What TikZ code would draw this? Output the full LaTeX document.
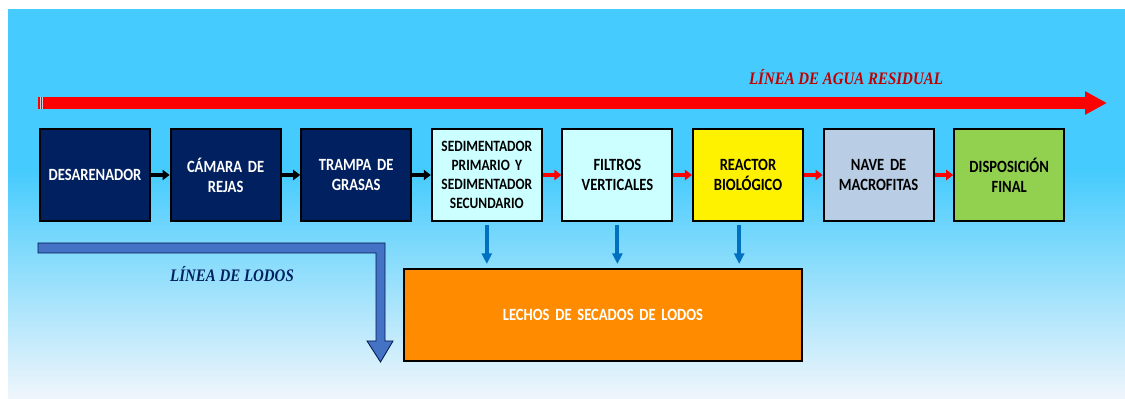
\documentclass[tikz,border=0pt]{standalone}
\usepackage{fontspec}
\setmainfont{Carlito}[FakeStretch=0.85]
\newfontfamily\rotulo{Liberation Serif}[FakeStretch=0.85]
\usetikzlibrary{positioning,arrows.meta}
\definecolor{fondo}{RGB}{69,203,253}
\definecolor{fondoclaro}{RGB}{240,246,251}
\definecolor{marino}{HTML}{002060}
\definecolor{celeste}{HTML}{CCFFFF}
\definecolor{acero}{HTML}{B9CDE5}
\definecolor{verde}{HTML}{92D050}
\definecolor{naranja}{HTML}{FF8C00}
\definecolor{azull}{HTML}{4472C4}
\definecolor{azulf}{HTML}{0070C0}
\definecolor{rojol}{HTML}{C00000}
\tikzset{
  etapa/.style={draw=black,line width=1.4pt,minimum width=2.75cm,minimum height=2.3cm,
    inner sep=0pt,text width=2.7cm,align=center,font=\bfseries\fontsize{12.2}{14.2}\selectfont},
  oscura/.style={etapa,fill=marino,text=white},
  flechanegra/.style={line width=3.5pt,-{Triangle[length=5pt,width=7.2pt]}},
  flecharoja/.style={flechanegra,red},
  flechabaja/.style={azulf,line width=2.8pt,-{Triangle[length=7.5pt,width=7pt]},
    shorten <=0.08cm,shorten >=0.1cm},
}
\begin{document}
\begin{tikzpicture}[x=0.025cm,y=-0.025cm,node distance=0.465cm]
            \useasboundingbox (0,0) rectangle (1125,399);
            % fondo
            \fill[white] (0,0) rectangle (1125,399);
            \fill[fondo] (8,9) rectangle (1125,171);
            \shade[top color=fondo,bottom color=fondoclaro] (8,170) rectangle (1125,399);
            % linea de agua residual
            \coordinate (aguaini) at (38,103);
            \coordinate (aguafin) at (1107,103);
            \draw[red,line width=8.5pt,-{Triangle[length=15.6pt,width=15.6pt]}] (aguaini) -- (aguafin);
            \draw[fondo!60!red!40!white,line width=0.5pt] (40,97)--(40,109) (42.8,97)--(42.8,109);
            \node[text=rojol,font=\rotulo\bfseries\itshape\fontsize{12.5}{14}\selectfont] (agua) at (846,77) {LÍNEA DE AGUA RESIDUAL};
            % etapas
            \node[oscura] (desar) at (95,175) {DESARENADOR};
            \node[oscura,right=of desar] (camara) {CÁMARA DE\\REJAS};
            \node[oscura,right=of camara] (trampa) {TRAMPA DE\\GRASAS};
            \node[etapa,fill=celeste,right=of trampa,font=\bfseries\fontsize{11.2}{13.6}\selectfont] (sedim) {SEDIMENTADOR\\PRIMARIO Y\\SEDIMENTADOR\\SECUNDARIO};
            \node[etapa,fill=celeste,right=of sedim] (filtros) {FILTROS\\VERTICALES};
            \node[etapa,fill=yellow,right=of filtros] (reactor) {REACTOR\\BIOLÓGICO};
            \node[etapa,fill=acero,right=of reactor] (nave) {NAVE DE\\MACROFITAS};
            \node[etapa,fill=verde,right=of nave] (final) {DISPOSICIÓN\\FINAL};
            \draw[flechanegra] (desar) -- (camara);
            \draw[flechanegra] (camara) -- (trampa);
            \draw[flechanegra] (trampa) -- (sedim);
            \draw[flecharoja] (sedim) -- (filtros);
            \draw[flecharoja] (filtros) -- (reactor);
            \draw[flecharoja] (reactor) -- (nave);
            \draw[flecharoja] (nave) -- (final);
            % linea de lodos
            \draw[fill=azull,draw=marino!80!black,line width=0.6pt] (38,243) -- (385,243) -- (385,341) -- (393,341)
                -- (380.5,362) -- (367,341) -- (376,341) -- (376,253) -- (38,253) -- cycle;
            \node[text=marino,font=\rotulo\bfseries\itshape\fontsize{12.5}{14}\selectfont] (lodos) at (232,274) {LÍNEA DE LODOS};
            \node[etapa,fill=naranja,text=white,minimum width=9.95cm,text width=9cm] (lechos) at (603,315) {LECHOS DE SECADOS DE LODOS};
            \draw[flechabaja] (sedim.south) -- (sedim.south |- lechos.north);
            \draw[flechabaja] (filtros.south) -- (filtros.south |- lechos.north);
            \draw[flechabaja] ([xshift=-0.22cm]reactor.south) -- ([xshift=-0.22cm]reactor.south |- lechos.north);
\end{tikzpicture}
\end{document}
